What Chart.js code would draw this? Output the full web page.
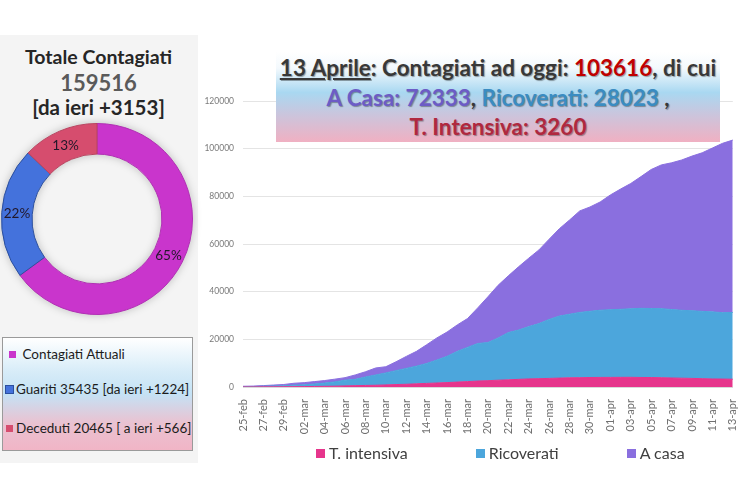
<!DOCTYPE html>
<html>
<head>
<meta charset="utf-8">
<script src="https://cdn.jsdelivr.net/npm/chart.js@4"></script>
<style>
  body { margin: 0; width: 750px; height: 500px; background: #fff; position: relative; overflow: hidden; font-family: Lato, "Open Sans", sans-serif; }
  #pannello { position: absolute; left: 0; top: 35px; width: 198px; height: 428px; background: #f4f4f4; }
  .riga { position: absolute; left: 0; width: 197px; text-align: center; font-weight: bold; line-height: 1; }
  #torta { position: absolute; left: 1px; top: 123px; width: 192px; height: 192px; filter: drop-shadow(0 0 4px rgba(0,0,0,0.22)); }
  #legendaTorta { position: absolute; left: 2px; top: 337px; width: 189px; height: 112px; border: 1px solid #9a9a9a;
    background: linear-gradient(#ffffff 0%, #d7ecf8 30%, #c4e2f5 50%, #e9c3d2 75%, #f1b5c6 100%); }
  .voce { position: absolute; left: 3px; font-size: 13.5px; color: #1c1c1c; white-space: nowrap; }
  .voce i { display: inline-block; width: 7px; height: 7px; margin-right: 3px; vertical-align: 1px; }
  #area { position: absolute; left: 200px; top: 0; width: 550px; height: 440px; }
  #titolo { position: absolute; left: 276px; top: 52px; width: 444px; height: 90px; text-align: center; font-weight: bold;
    font-size: 22.5px; line-height: 29.5px; color: #383838; padding-top: 1px; box-sizing: border-box;
    background: linear-gradient(#ffffff 0%, #f3f9fd 18%, #a9d8f1 45%, #c9c6de 68%, #f0b0c2 100%);
    text-shadow: 1px 1px 1px rgba(0,0,0,0.35); }
  #legendaArea { position: absolute; left: 316px; top: 443px; display: flex; gap: 68px; font-size: 16px; color: #404040; }
  #legendaArea i { display: inline-block; width: 9px; height: 9px; margin-right: 4px; vertical-align: 1px; }
</style>
</head>
<body>
<div id="pannello"></div>
<div class="riga" style="top:47px;font-size:19.5px;color:#262626;">Totale Contagiati</div>
<div class="riga" style="top:72px;font-size:22px;color:#5a5a5a;">159516</div>
<div class="riga" style="top:97px;font-size:20.5px;color:#262626;">[da ieri +3153]</div>
<div id="torta"><canvas id="graficoTorta"></canvas></div>
<div id="legendaTorta">
  <div class="voce" style="top:8px;left:6px;"><i style="background:#c935cc"></i> Contagiati Attuali</div>
  <div class="voce" style="top:43px;"><i style="background:#4472dc;outline:1px solid #2b4f9e"></i>Guariti 35435 [da ieri +1224]</div>
  <div class="voce" style="top:82px;"><i style="background:#d64d6e"></i>Deceduti 20465 [ a ieri +566]</div>
</div>
<div id="area"><canvas id="graficoArea"></canvas></div>
<div id="titolo">
  <div><u>13 Aprile</u>: Contagiati ad oggi: <span style="color:#c00000">103616</span>, di cui</div>
  <div><span style="color:#6c5cc6">A Casa: 72333</span>, <span style="color:#3a8cc2">Ricoverati: 28023</span> ,</div>
  <div><span style="color:#b0283f">T. Intensiva: 3260</span></div>
</div>
<div id="legendaArea"></div>

<script>
// dati torta
const categorieTorta = ["Contagiati Attuali", "Guariti", "Deceduti"];
const valoriTorta = [103616, 35435, 20465];
const coloriTorta = ["#c935cc", "#4472dc", "#d64d6e"];

// dati area (25 feb - 13 apr)
const giorni = [
  "25-feb", "26-feb", "27-feb", "28-feb", "29-feb",
  "01-mar", "02-mar", "03-mar", "04-mar", "05-mar", "06-mar", "07-mar", "08-mar", "09-mar", "10-mar",
  "11-mar", "12-mar", "13-mar", "14-mar", "15-mar", "16-mar", "17-mar", "18-mar", "19-mar", "20-mar",
  "21-mar", "22-mar", "23-mar", "24-mar", "25-mar", "26-mar", "27-mar", "28-mar", "29-mar", "30-mar",
  "31-mar", "01-apr", "02-apr", "03-apr", "04-apr", "05-apr", "06-apr", "07-apr", "08-apr", "09-apr",
  "10-apr", "11-apr", "12-apr", "13-apr"
];
const terapiaIntensiva = [
  35, 36, 56, 64, 105,
  140, 166, 229, 295, 351, 462, 567, 650, 733, 877,
  1028, 1153, 1328, 1518, 1672, 1851, 2060, 2257, 2498, 2655,
  2857, 3009, 3204, 3396, 3489, 3612, 3732, 3856, 3906, 3981,
  4023, 4035, 4053, 4068, 3994, 3977, 3898, 3792, 3693, 3605,
  3497, 3381, 3343, 3260
];
const ricoverati = [
  114, 128, 248, 345, 401,
  639, 742, 1034, 1346, 1790, 2394, 2651, 3557, 4316, 5038,
  5838, 6650, 7426, 8372, 9663, 11025, 12894, 14363, 15757, 16020,
  17708, 19846, 20692, 21937, 23112, 24753, 26029, 26676, 27386, 27795,
  28192, 28403, 28540, 28741, 29010, 28949, 28976, 28718, 28485, 28399,
  28242, 28144, 27847, 28023
];
const aCasa = [
  162, 221, 284, 412, 543,
  798, 927, 1000, 1065, 1155, 1060, 1843, 2180, 2936, 2599,
  3724, 5036, 6201, 7860, 9268, 10197, 11108, 12090, 14935, 19185,
  22116, 23783, 26522, 28697, 30920, 33648, 36653, 39533, 42588, 43752,
  45420, 48134, 50456, 52579, 55270, 58320, 60313, 61557, 63084, 64873,
  66534, 68744, 71063, 72333
];
const serieArea = [
  { nome: "T. intensiva", valori: terapiaIntensiva, colore: "#e6358c" },
  { nome: "Ricoverati", valori: ricoverati, colore: "#4ca6dc" },
  { nome: "A casa", valori: aCasa, colore: "#8a6fdf" },
];
const tickY = [0, 20000, 40000, 60000, 80000, 100000, 120000];

// percentuali sulla ciambella
const etichettePercento = {
  id: "etichettePercento",
  afterDatasetsDraw(chart) {
    const ctx = chart.ctx;
    const dati = chart.data.datasets[0].data;
    const totale = dati.reduce((a, b) => a + b, 0);
    ctx.save();
    ctx.font = "13.5px Lato";
    ctx.fillStyle = "#22182a";
    ctx.textAlign = "center";
    ctx.textBaseline = "middle";
    chart.getDatasetMeta(0).data.forEach((arco, i) => {
      const p = arco.tooltipPosition();
      ctx.fillText(Math.round((dati[i] / totale) * 100) + "%", p.x, p.y);
    });
    ctx.restore();
  },
};

new Chart(document.getElementById("graficoTorta"), {
  type: "doughnut",
  data: {
    labels: categorieTorta,
    datasets: [{
      data: valoriTorta,
      backgroundColor: coloriTorta,
      borderColor: ["#b02fb3", "#2b4f9e", "#b94460"],
      borderWidth: 1,
    }],
  },
  options: {
    responsive: true,
    maintainAspectRatio: false,
    animation: false,
    cutout: "68%",
    plugins: { legend: { display: false }, tooltip: { enabled: false } },
  },
  plugins: [etichettePercento],
});

new Chart(document.getElementById("graficoArea"), {
  type: "line",
  data: {
    labels: giorni,
    datasets: serieArea.map((s, i) => ({
      label: s.nome,
      data: s.valori,
      backgroundColor: s.colore,
      borderColor: s.colore,
      borderWidth: 1,
      pointRadius: 0,
      tension: 0,
      fill: i === 0 ? "origin" : "-1",
    })),
  },
  options: {
    responsive: true,
    maintainAspectRatio: false,
    animation: false,
    layout: { padding: { top: 101, right: 14, left: 0, bottom: 0 } },
    plugins: { legend: { display: false }, tooltip: { enabled: false } },
    scales: {
      x: {
        grid: { display: false },
        border: { color: "#d9d9d9" },
        ticks: {
          autoSkip: false,
          minRotation: 90,
          maxRotation: 90,
          padding: 4,
          color: "#707070",
          font: { family: "Lato", size: 11 },
          callback(v, i) {
            return i % 2 === 0 ? this.getLabelForValue(v) : null;
          },
        },
        afterFit(s) { s.height = 53; },
      },
      y: {
        stacked: true,
        min: tickY[0],
        max: tickY[tickY.length - 1],
        afterBuildTicks(s) { s.ticks = tickY.map((v) => ({ value: v })); },
        ticks: {
          color: "#7a7a7a",
          padding: 9,
          font: { family: "Lato", size: 8.5 },
          callback: (v) => String(v),
        },
        grid: { color: "#e4e4e4", drawTicks: false },
        border: { display: false },
        afterFit(s) { s.width = 43; },
      },
    },
  },
});

// legenda in basso
const legenda = document.getElementById("legendaArea");
serieArea.forEach((s) => {
  const el = document.createElement("div");
  el.innerHTML = `<i style="background:${s.colore}"></i>${s.nome}`;
  legenda.appendChild(el);
});
</script>
</body>
</html>
